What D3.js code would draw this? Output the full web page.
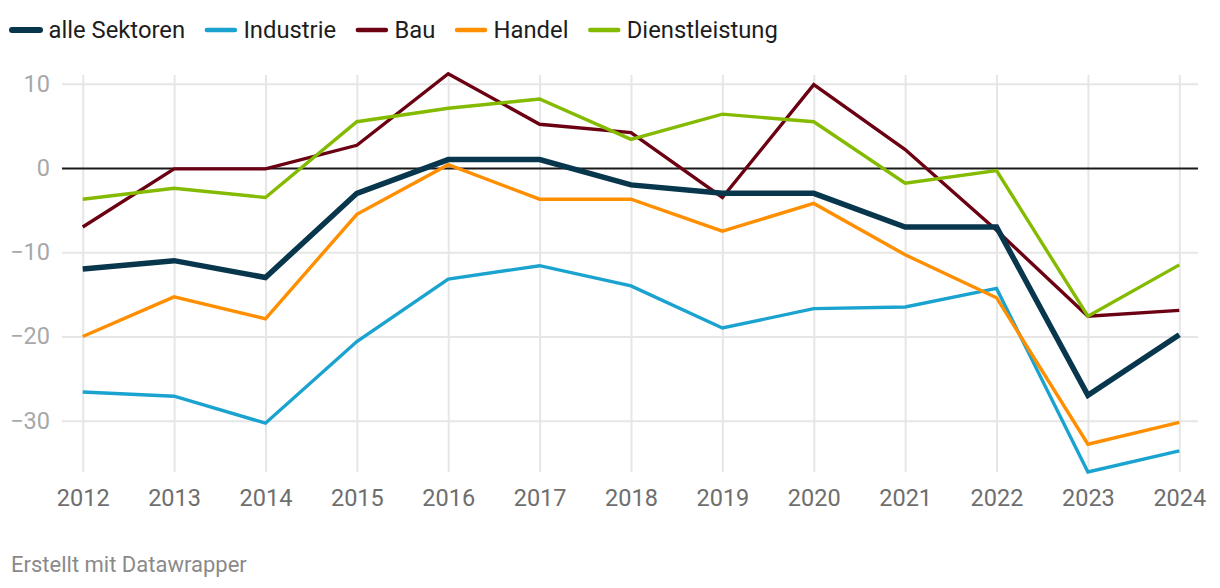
<!DOCTYPE html>
<html><head><meta charset="utf-8">
<script src="https://cdn.jsdelivr.net/npm/d3@7"></script>
<style>
body{margin:0;background:#fff;}
svg{display:block;font-family:Roboto, "Noto Sans", sans-serif;}
</style></head>
<body><svg id="chart" width="1220" height="588"></svg>
<script>
const years = [2012,2013,2014,2015,2016,2017,2018,2019,2020,2021,2022,2023,2024];
const seriesNames = ["alle Sektoren","Industrie","Bau","Handel","Dienstleistung"];
const seriesColors = ["#08364c","#1ba3d0","#6b0012","#ff8f00","#84bb00"];
const alleSektoren   = [-12,-11,-13,-3,1,1,-2,-3,-3,-7,-7,-27,-19.8];
const industrie      = [-26.6,-27.1,-30.3,-20.6,-13.2,-11.6,-14,-19,-16.7,-16.5,-14.3,-36.1,-33.6];
const bau            = [-7,-0.1,-0.1,2.7,11.2,5.2,4.2,-3.5,9.9,2.2,-7.4,-17.6,-16.9];
const handel         = [-20,-15.3,-17.9,-5.5,0.4,-3.7,-3.7,-7.5,-4.2,-10.3,-15.4,-32.8,-30.2];
const dienstleistung = [-3.7,-2.4,-3.5,5.5,7.1,8.2,3.4,6.4,5.5,-1.8,-0.3,-17.6,-11.5];
const yTicks = [-30,-20,-10,0,10];
const footerText = "Erstellt mit Datawrapper";

const seriesValues = [alleSektoren, industrie, bau, handel, dienstleistung];
const svg = d3.select("#chart");

const x = d3.scalePoint().domain(years).range([82.7, 1179.3]);
const y = d3.scaleLinear().domain([-36.1, 11.05]).range([472, 75]);

// vertical grid + x labels
const xAxis = d3.axisBottom(x).tickSize(-(472-75)).tickPadding(17.5).tickFormat(d3.format("d"));
const gx = svg.append("g").attr("transform","translate(0,472)").call(xAxis);
gx.select(".domain").remove();
gx.selectAll(".tick line").attr("stroke","#e6e6e6").attr("stroke-width",2);
gx.selectAll(".tick text").attr("fill","#6e6e6e").style("font-size","23.5px").style("font-family","Roboto");

// horizontal grid + y labels
const yAxis = d3.axisLeft(y).tickValues(yTicks).tickSize(-(1198-62)).tickPadding(12);
const gy = svg.append("g").attr("transform","translate(62,0)").call(yAxis);
gy.select(".domain").remove();
gy.selectAll(".tick line").attr("stroke", d => d===0 ? "#1a1a1a" : "#e6e6e6").attr("stroke-width",2);
gy.selectAll(".tick text").attr("fill","#a8a8a8").style("font-size","23.5px").style("font-family","Roboto");
gy.selectAll(".tick").filter(d=>d===0).raise();

// lines
const line = d3.line().x((d,i)=>x(years[i])).y(d=>y(d));
const order = [1,2,3,4,0];
order.forEach(k=>{
  svg.append("path")
    .attr("d", line(seriesValues[k]))
    .attr("fill","none")
    .attr("stroke", seriesColors[k])
    .attr("stroke-width", k===0 ? 5.5 : 3.4)
    .attr("stroke-linejoin","miter")
    .attr("stroke-linecap","butt");
});

// legend
const lg = svg.append("g").attr("class","legend");
let lx = 10;
seriesNames.forEach((name,k)=>{
  lg.append("line").attr("x1",lx+2).attr("x2",lx+30).attr("y1",30).attr("y2",30)
    .attr("stroke",seriesColors[k]).attr("stroke-width", k===0 ? 6 : 4.5).attr("stroke-linecap","round");
  const t = lg.append("text").attr("x",lx+38.5).attr("y",37.5).text(name)
    .attr("fill","#1d1d1d").style("font-size","23.8px");
  const w = t.node().getComputedTextLength();
  lx = lx + 38.5 + w + 19.8;
});

// footer
svg.append("text").attr("x",11).attr("y",572).text(footerText)
  .attr("fill","#8a8a8a").style("font-size","22px");
</script></body></html>
